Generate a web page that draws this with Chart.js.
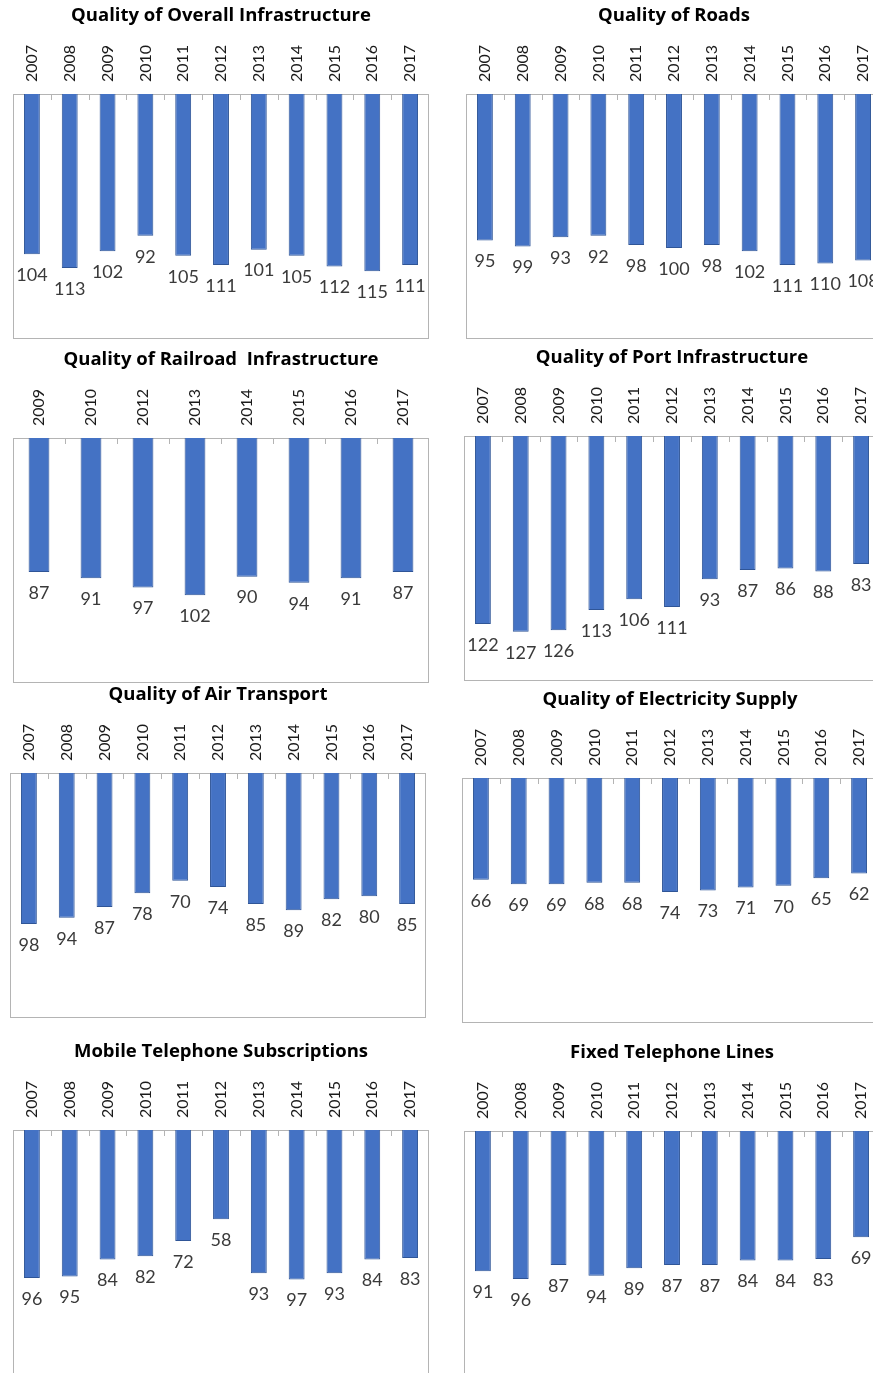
<!DOCTYPE html>
<html>
<head>
<meta charset="utf-8">
<script src="https://cdn.jsdelivr.net/npm/chart.js@4.4.0/dist/chart.umd.min.js"></script>
<style>
  html, body { margin: 0; padding: 0; background: #fff; }
  body { width: 873px; height: 1373px; position: relative; overflow: hidden; }
  canvas { position: absolute; }
</style>
</head>
<body>
<canvas id="overall" width="420" height="342"></canvas>
<canvas id="roads" width="420" height="342"></canvas>
<canvas id="railroad" width="420" height="342"></canvas>
<canvas id="port" width="420" height="342"></canvas>
<canvas id="air" width="420" height="342"></canvas>
<canvas id="electricity" width="420" height="342"></canvas>
<canvas id="mobile" width="420" height="342"></canvas>
<canvas id="fixed" width="420" height="342"></canvas>
<script>
// Years on the category axis
const years = ['2007', '2008', '2009', '2010', '2011', '2012', '2013', '2014', '2015', '2016', '2017'];
const railYears = ['2009', '2010', '2012', '2013', '2014', '2015', '2016', '2017'];

// Rank values per indicator
const overallValues = [104, 113, 102, 92, 105, 111, 101, 105, 112, 115, 111];
const roadsValues = [95, 99, 93, 92, 98, 100, 98, 102, 111, 110, 108];
const railroadValues = [87, 91, 97, 102, 90, 94, 91, 87];
const portValues = [122, 127, 126, 113, 106, 111, 93, 87, 86, 88, 83];
const airValues = [98, 94, 87, 78, 70, 74, 85, 89, 82, 80, 85];
const electricityValues = [66, 69, 69, 68, 68, 74, 73, 71, 70, 65, 62];
const mobileValues = [96, 95, 84, 82, 72, 58, 93, 97, 93, 84, 83];
const fixedValues = [91, 96, 87, 94, 89, 87, 87, 84, 84, 83, 69];

// Panel placement on the page
const panels = [
    { id: 'overall', title: 'Quality of Overall Infrastructure', labels: years, values: overallValues, left: 11, top: -1 },
    { id: 'roads', title: 'Quality of Roads', labels: years, values: roadsValues, left: 464, top: -1 },
    { id: 'railroad', title: 'Quality of Railroad  Infrastructure', labels: railYears, values: railroadValues, left: 11, top: 343, bar: 0.40 },
    { id: 'port', title: 'Quality of Port Infrastructure', labels: years, values: portValues, left: 462, top: 341 },
    { id: 'air', title: 'Quality of Air Transport', labels: years, values: airValues, left: 8, top: 678 },
    { id: 'electricity', title: 'Quality of Electricity Supply', labels: years, values: electricityValues, left: 460, top: 683 },
    { id: 'mobile', title: 'Mobile Telephone Subscriptions', labels: years, values: mobileValues, left: 11, top: 1035 },
    { id: 'fixed', title: 'Fixed Telephone Lines', labels: years, values: fixedValues, left: 462, top: 1036 }
];

const yearFontSize = 16;

// Plot frame and the small tick marks between categories
const framePlugin = {
    id: 'frame',
    beforeDatasetsDraw(chart) {
        const { ctx, chartArea: a } = chart;
        const x = chart.scales.x;
        ctx.save();
        ctx.strokeStyle = '#b4b4b4';
        ctx.lineWidth = 1;
        ctx.strokeRect(Math.round(a.left) + 0.5, Math.round(a.top) + 0.5, Math.round(a.width) - 1, Math.round(a.height) - 1);
        for (let i = 1; i < x.ticks.length; i++) {
            const px = Math.round((x.getPixelForTick(i - 1) + x.getPixelForTick(i)) / 2) + 0.5;
            ctx.beginPath();
            ctx.moveTo(px, a.top);
            ctx.lineTo(px, a.top + 6);
            ctx.stroke();
        }
        ctx.restore();
    }
};

// Value labels under each bar end
const valueLabelPlugin = {
    id: 'valueLabels',
    afterDatasetsDraw(chart) {
        const { ctx } = chart;
        const meta = chart.getDatasetMeta(0);
        const data = chart.data.datasets[0].data;
        ctx.save();
        ctx.font = '18px Lato';
        ctx.fillStyle = '#3a3a3a';
        ctx.textAlign = 'center';
        ctx.textBaseline = 'middle';
        meta.data.forEach((bar, i) => {
            ctx.fillText(String(data[i]), bar.x, bar.y + 21);
        });
        ctx.restore();
    }
};

panels.forEach(p => {
    const canvas = document.getElementById(p.id);
    canvas.style.left = p.left + 'px';
    canvas.style.top = p.top + 'px';

    new Chart(canvas, {
        type: 'bar',
        data: {
            labels: p.labels,
            datasets: [{
                data: p.values,
                backgroundColor: '#4472c4',
                borderColor: '#2f5597',
                borderWidth: 1,
                barPercentage: p.bar || 0.42,
                categoryPercentage: 1
            }]
        },
        options: {
            responsive: false,
            animation: false,
            layout: { padding: { left: 2, right: 2, top: 0, bottom: 2 } },
            plugins: {
                legend: { display: false },
                tooltip: { enabled: false },
                title: {
                    display: true,
                    text: p.title,
                    color: '#000',
                    font: { family: 'Open Sans', size: 18.5, weight: 'bold' },
                    padding: { top: 6, bottom: 11.8 }
                }
            },
            scales: {
                x: {
                    position: 'top',
                    grid: { display: false, drawTicks: false },
                    border: { display: false },
                    ticks: {
                        minRotation: 90,
                        maxRotation: 90,
                        autoSkip: false,
                        padding: 12,
                        // top-axis rotated labels sit one line height left of the tick
                        labelOffset: yearFontSize * 1.2,
                        color: '#1a1a1a',
                        font: { family: 'Lato', size: yearFontSize }
                    },
                    afterFit(scale) {
                        scale.height = 55;
                        scale.paddingLeft = 0;
                        scale.paddingRight = 0;
                    }
                },
                y: {
                    display: false,
                    reverse: true,
                    min: 0,
                    max: 159
                }
            }
        },
        plugins: [framePlugin, valueLabelPlugin]
    });
});
</script>
</body>
</html>
